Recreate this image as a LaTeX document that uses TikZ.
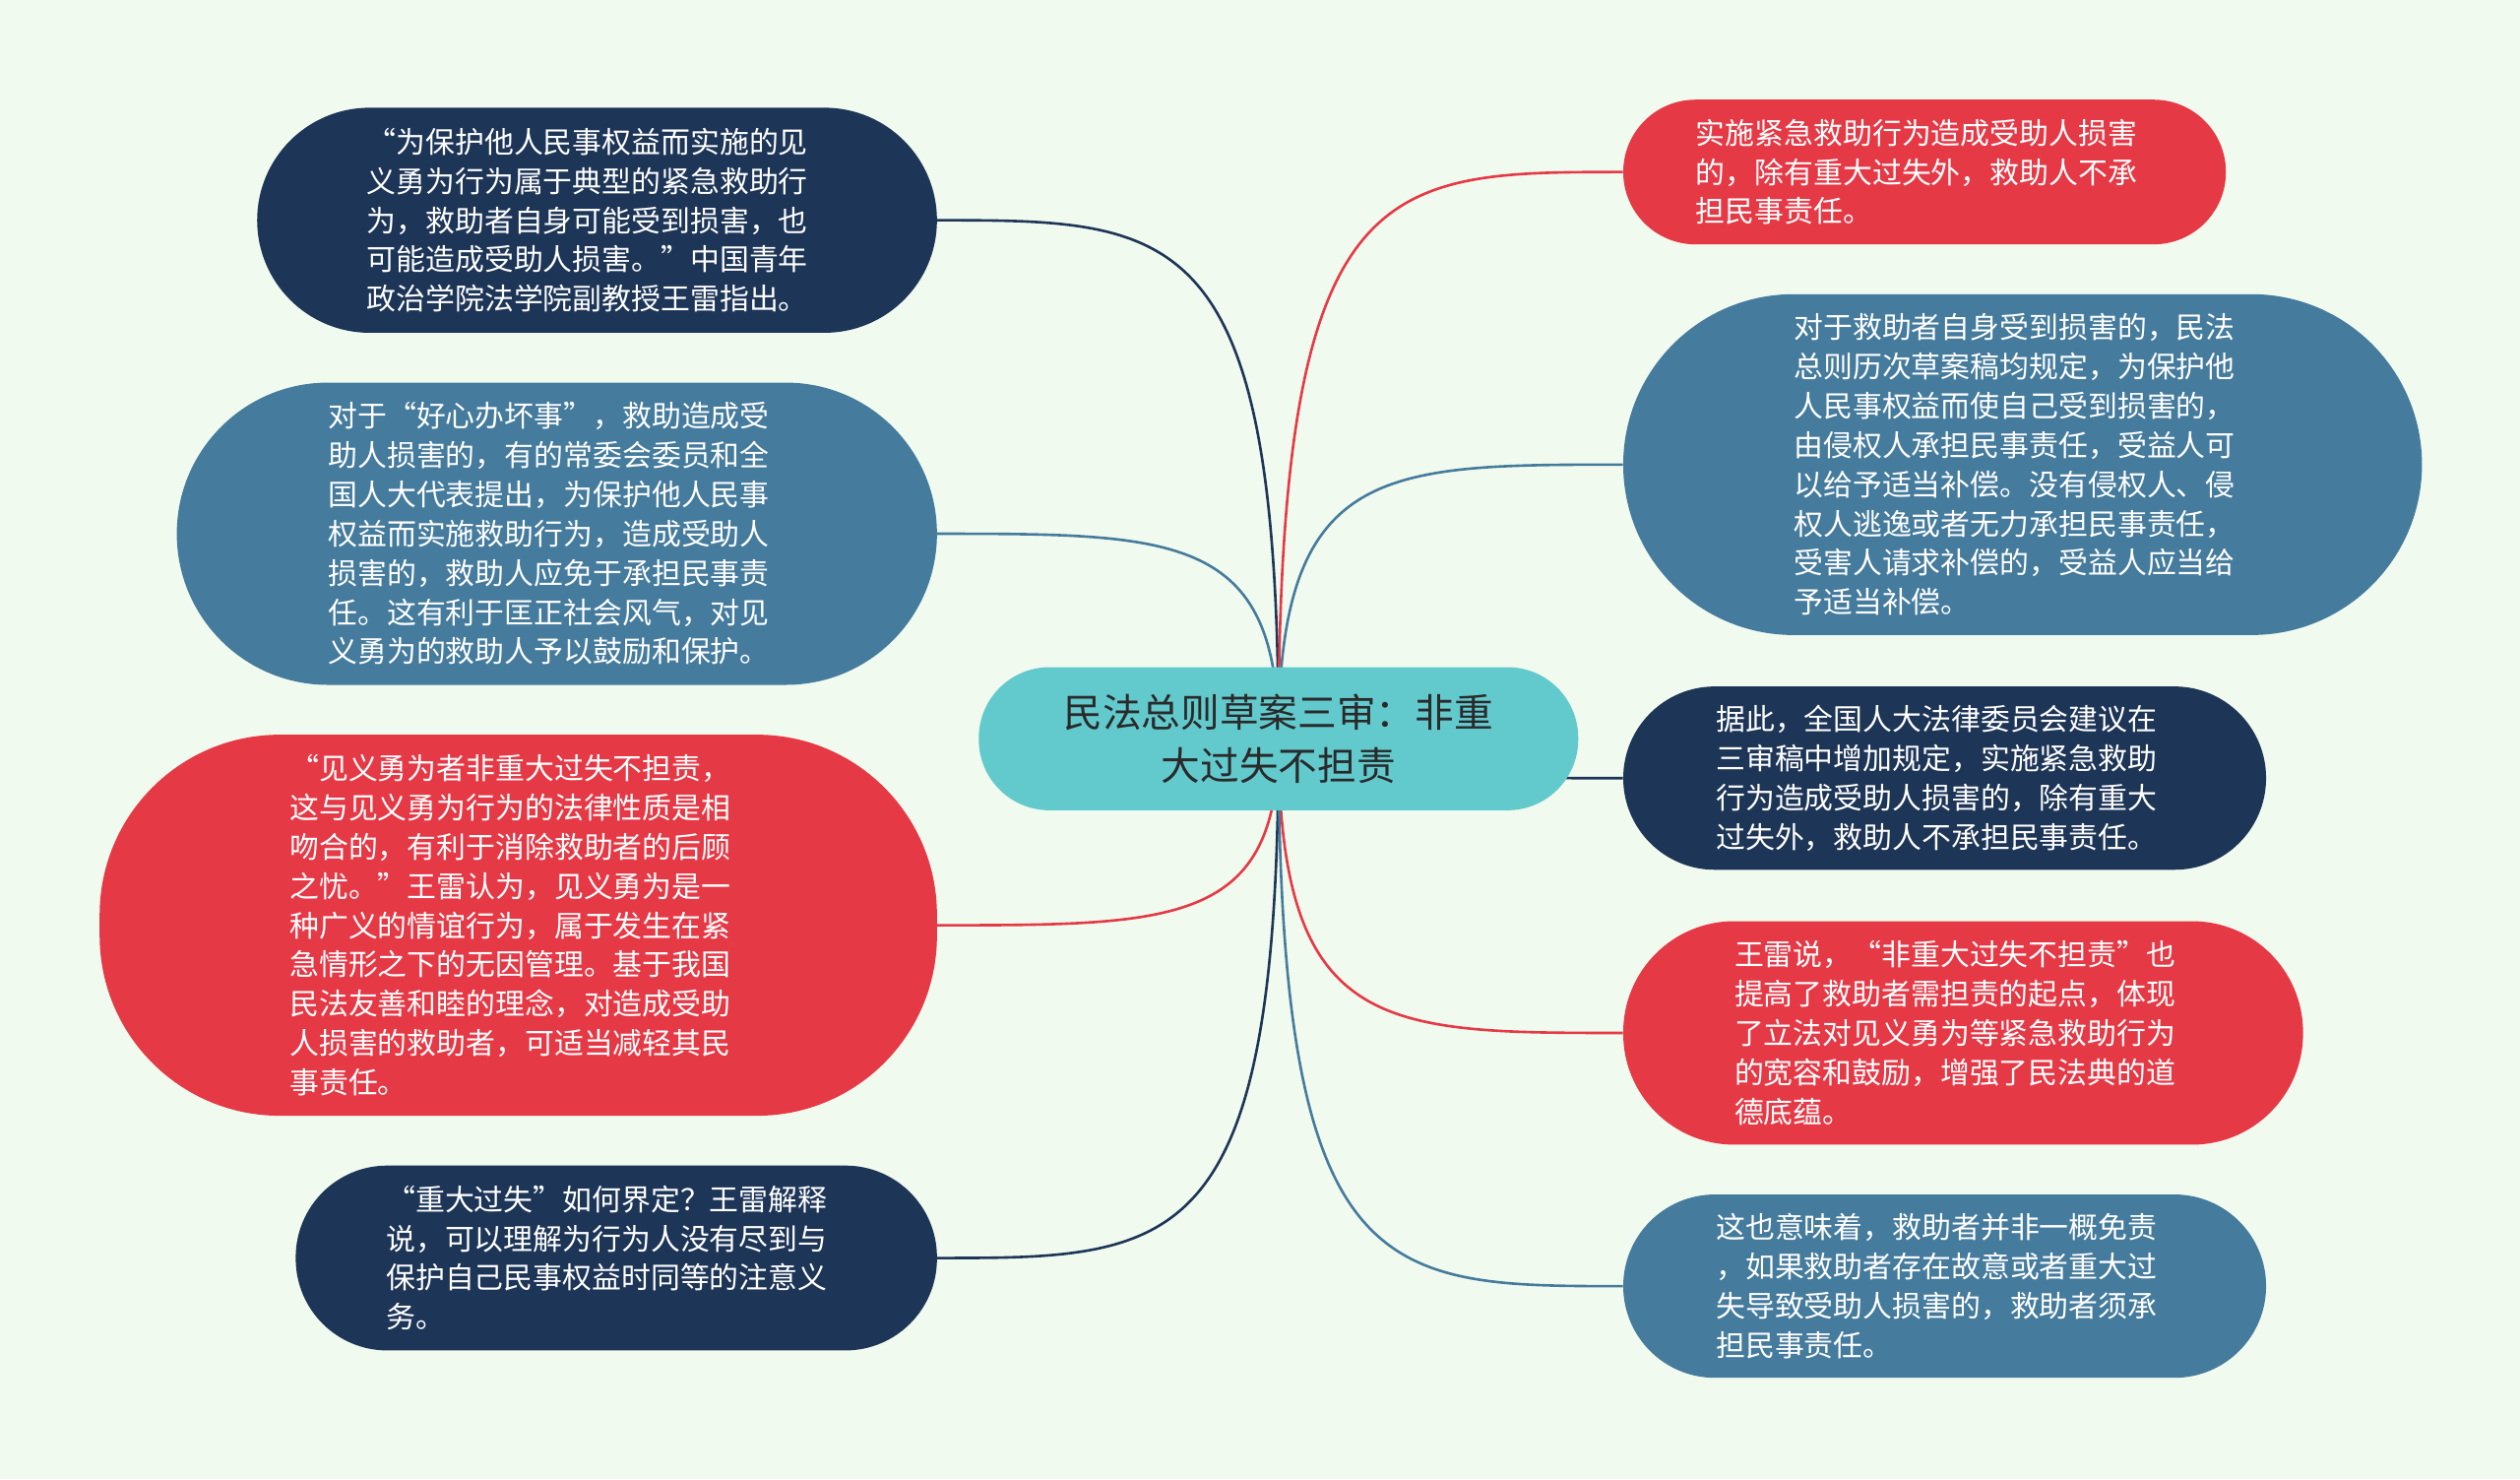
\documentclass[tikz,border=0pt]{standalone}
\usepackage{fontspec}
\newfontfamily\cjk{Noto Sans CJK SC}
\usetikzlibrary{calc}
\definecolor{bgc}{HTML}{F1FAEE}
\definecolor{navy}{HTML}{1D3557}
\definecolor{steel}{HTML}{457B9D}
\definecolor{redc}{HTML}{E63946}
\definecolor{tealc}{HTML}{62C9CD}
\definecolor{ctext}{HTML}{2A2A2A}
\pgfdeclarelayer{bg}
\pgfsetlayers{bg,main}
\begin{document}
\begin{tikzpicture}[x=1pt,y=-1pt,
  pill/.style={inner sep=0pt},
  tx/.style={inner sep=0pt, text=white, align=left,
    font=\cjk\fontsize{18.3}{24.4}\selectfont},
  hub/.style={inner sep=0pt, text=ctext, align=center, fill=tealc,
    font=\cjk\fontsize{24.3}{33}\selectfont},
  link/.style={line width=1.6pt}
]
\useasboundingbox (0,0) rectangle (1568,920);

% central node
\node[hub, minimum width=373pt, minimum height=89pt, rounded corners=44pt] (c) at (795.5,459.5)
  {民法总则草案三审：非重\\大过失不担责};

% left nodes
\node[pill, fill=navy, minimum width=423pt, minimum height=140pt, rounded corners=70pt] (l1) at (371.5,137) {};
\node[tx] (l1t) at ($(l1.center)+(-6,0)$)
  {“为保护他人民事权益而实施的见\\义勇为行为属于典型的紧急救助行\\为，救助者自身可能受到损害，也\\可能造成受助人损害。”中国青年\\政治学院法学院副教授王雷指出。};
\node[pill, fill=steel, minimum width=473pt, minimum height=188pt, rounded corners=94pt] (l2) at (346.5,332) {};
\node[tx] (l2t) at ($(l2.center)+(-5,0)$)
  {对于“好心办坏事”，救助造成受\\助人损害的，有的常委会委员和全\\国人大代表提出，为保护他人民事\\权益而实施救助行为，造成受助人\\损害的，救助人应免于承担民事责\\任。这有利于匡正社会风气，对见\\义勇为的救助人予以鼓励和保护。};
\node[pill, fill=redc, minimum width=521pt, minimum height=237pt, rounded corners=112pt] (l3) at (322.5,575.5) {};
\node[tx] (l3t) at ($(l3.center)+(-5,0)$)
  {“见义勇为者非重大过失不担责，\\这与见义勇为行为的法律性质是相\\吻合的，有利于消除救助者的后顾\\之忧。”王雷认为，见义勇为是一\\种广义的情谊行为，属于发生在紧\\急情形之下的无因管理。基于我国\\民法友善和睦的理念，对造成受助\\人损害的救助者，可适当减轻其民\\事责任。};
\node[pill, fill=navy, minimum width=399pt, minimum height=115pt, rounded corners=57pt] (l4) at (383.5,782.5) {};
\node[tx] (l4t) at ($(l4.center)+(-6,0)$)
  {“重大过失”如何界定？王雷解释\\说，可以理解为行为人没有尽到与\\保护自己民事权益时同等的注意义\\务。};

% right nodes
\node[pill, fill=redc, minimum width=375pt, minimum height=90pt, rounded corners=45pt] (r1) at (1197.5,107) {};
\node[tx] (r1t) at ($(r1.center)+(-5,0)$)
  {实施紧急救助行为造成受助人损害\\的，除有重大过失外，救助人不承\\担民事责任。};
\node[pill, fill=steel, minimum width=497pt, minimum height=212pt, rounded corners=106pt] (r2) at (1258.5,289) {};
\node[tx] (r2t) at ($(r2.center)+(-5,0)$)
  {对于救助者自身受到损害的，民法\\总则历次草案稿均规定，为保护他\\人民事权益而使自己受到损害的，\\由侵权人承担民事责任，受益人可\\以给予适当补偿。没有侵权人、侵\\权人逃逸或者无力承担民事责任，\\受害人请求补偿的，受益人应当给\\予适当补偿。};
\node[pill, fill=navy, minimum width=400pt, minimum height=114pt, rounded corners=57pt] (r3) at (1210,484) {};
\node[tx] (r3t) at ($(r3.center)+(-5,0)$)
  {据此，全国人大法律委员会建议在\\三审稿中增加规定，实施紧急救助\\行为造成受助人损害的，除有重大\\过失外，救助人不承担民事责任。};
\node[pill, fill=redc, minimum width=423pt, minimum height=139pt, rounded corners=69pt] (r4) at (1221.5,642.5) {};
\node[tx] (r4t) at ($(r4.center)+(-5,0)$)
  {王雷说，“非重大过失不担责”也\\提高了救助者需担责的起点，体现\\了立法对见义勇为等紧急救助行为\\的宽容和鼓励，增强了民法典的道\\德底蕴。};
\node[pill, fill=steel, minimum width=400pt, minimum height=114pt, rounded corners=57pt] (r5) at (1210,800) {};
\node[tx] (r5t) at ($(r5.center)+(-5,0)$)
  {这也意味着，救助者并非一概免责\\，如果救助者存在故意或者重大过\\失导致受助人损害的，救助者须承\\担民事责任。};

\begin{pgfonlayer}{bg}
  \fill[bgc] (0,0) rectangle (1568,920);
  \foreach \n/\col/\a in {l1/navy/east, l2/steel/east, l3/redc/east, l4/navy/east,
                          r1/redc/west, r2/steel/west, r3/navy/west, r4/redc/west, r5/steel/west}{
    \draw[link, draw=\col] (c.center) .. controls (c.center |- \n.\a) and ($(c.center |- \n.\a)!0.3!(\n.\a)$) .. (\n.\a);
  }
\end{pgfonlayer}
\end{tikzpicture}
\end{document}
